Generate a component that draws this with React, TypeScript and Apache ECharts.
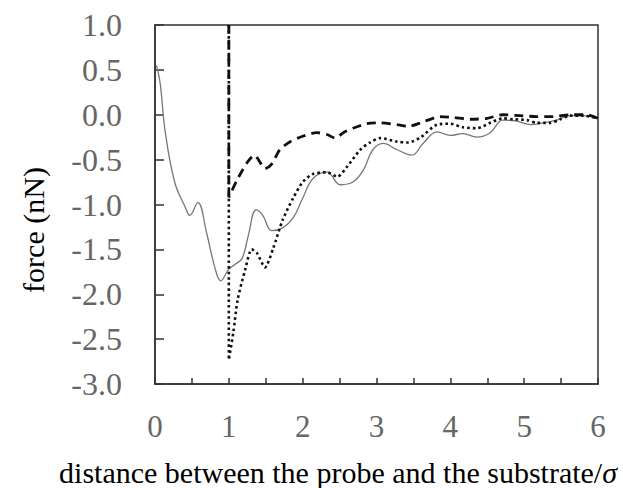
import React, { useEffect, useRef } from "react";
import * as echarts from "echarts";

const xTicks = [0, 1, 2, 3, 4, 5, 6];
const yTicks = [1.0, 0.5, 0.0, -0.5, -1.0, -1.5, -2.0, -2.5, -3.0];

const solidSeries: [number, number][] = [
  [0.02, 0.55], [0.07, 0.35], [0.14, -0.2], [0.27, -0.76], [0.41, -1.03], [0.47, -1.12],
  [0.58, -0.98], [0.7, -1.32], [0.81, -1.7], [0.89, -1.85], [1.0, -1.72], [1.08, -1.67],
  [1.18, -1.6], [1.26, -1.36], [1.37, -1.06], [1.46, -1.12], [1.58, -1.29], [1.73, -1.26],
  [1.87, -1.15], [2.0, -0.93], [2.14, -0.71], [2.33, -0.64], [2.51, -0.78], [2.68, -0.75],
  [2.82, -0.62], [2.95, -0.39], [3.09, -0.32], [3.28, -0.39], [3.48, -0.45], [3.63, -0.32],
  [3.82, -0.19], [4.0, -0.23], [4.17, -0.21], [4.36, -0.25], [4.54, -0.2], [4.71, -0.06],
  [4.9, -0.07], [5.08, -0.11], [5.26, -0.09], [5.44, -0.06], [5.62, -0.01], [5.8, -0.01],
  [6.0, -0.04],
];

const dashedSeries: [number, number][] = [
  [1.0, 1.0], [1.0, -0.92], [1.11, -0.73], [1.25, -0.53], [1.35, -0.45], [1.4, -0.5],
  [1.49, -0.6], [1.58, -0.55], [1.69, -0.39], [1.83, -0.3], [2.0, -0.24], [2.19, -0.2],
  [2.33, -0.22], [2.44, -0.26], [2.55, -0.2], [2.68, -0.15], [2.87, -0.1], [3.05, -0.09],
  [3.28, -0.11], [3.43, -0.13], [3.63, -0.08], [3.86, -0.02], [4.04, -0.03], [4.27, -0.05],
  [4.5, -0.04], [4.71, 0.0], [4.94, -0.01], [5.17, -0.02], [5.39, -0.02], [5.62, 0.0],
  [5.85, 0.0], [6.0, -0.04],
];

const dottedSeries: [number, number][] = [
  [1.0, 1.0], [1.0, -2.73], [1.06, -2.43], [1.12, -2.06], [1.22, -1.73], [1.31, -1.5],
  [1.38, -1.54], [1.49, -1.7], [1.6, -1.49], [1.73, -1.17], [1.87, -0.93], [2.0, -0.75],
  [2.14, -0.66], [2.33, -0.64], [2.47, -0.69], [2.6, -0.58], [2.78, -0.39], [2.91, -0.31],
  [3.05, -0.26], [3.28, -0.3], [3.43, -0.31], [3.6, -0.25], [3.82, -0.11], [4.0, -0.1],
  [4.17, -0.14], [4.36, -0.15], [4.54, -0.09], [4.71, -0.04], [4.85, -0.05], [5.04, -0.06],
  [5.17, -0.09], [5.35, -0.09], [5.49, -0.05], [5.62, -0.01], [5.8, -0.01], [6.0, -0.04],
];

const FONT = "'Liberation Serif', 'DejaVu Serif', serif";

export default function App() {
  const ref = useRef<HTMLDivElement>(null);
  useEffect(() => {
    if (!ref.current) return;
    const chart = echarts.init(ref.current, undefined, { renderer: "svg" });
    chart.setOption({
      animation: false,
      backgroundColor: "#ffffff",
      grid: {
        left: 155, right: 25, top: 25, bottom: 104,
        show: true, borderColor: "#333", borderWidth: 1.5, backgroundColor: "transparent",
      },
      xAxis: {
        type: "value", min: 0, max: 6, interval: 0.5,
        axisLine: { show: true, onZero: false, lineStyle: { color: "#333", width: 1.5 } },
        axisTick: { show: true, inside: true, length: 6, lineStyle: { color: "#333", width: 1.5 } },
        splitLine: { show: false },
        axisLabel: {
          margin: 27, color: "#666", fontFamily: FONT, fontSize: 31,
          formatter: (v: number) => (xTicks.indexOf(v) >= 0 ? String(v) : ""),
        },
      },
      yAxis: {
        type: "value", min: -3, max: 1, interval: 0.5,
        axisLine: { show: true, onZero: false, lineStyle: { color: "#333", width: 1.5 } },
        axisTick: { show: true, inside: true, length: 9, lineStyle: { color: "#333", width: 1.5 } },
        splitLine: { show: false },
        axisLabel: {
          margin: 33, color: "#666", fontFamily: FONT, fontSize: 32,
          formatter: (v: number) => {
            const t = yTicks.find((y) => Math.abs(y - v) < 1e-9);
            return t === undefined ? "" : t.toFixed(1);
          },
        },
      },
      series: [
        {
          type: "line", data: solidSeries, showSymbol: false, smooth: 0.4,
          lineStyle: { color: "#777", width: 1.3 },
        },
        {
          type: "line", data: dashedSeries, showSymbol: false, smooth: 0.25,
          lineStyle: { color: "#111", width: 2.8, type: [9, 6] },
        },
        {
          type: "line", data: dottedSeries, showSymbol: false, smooth: 0.25,
          lineStyle: { color: "#111", width: 2.6, type: [2.6, 3] },
        },
      ],
      graphic: [
        {
          type: "text", x: 33, y: 230, rotation: Math.PI / 2,
          style: {
            text: "force (nN)", fill: "#000", font: `30px ${FONT}`,
            textAlign: "center", textVerticalAlign: "middle",
          },
        },
        {
          type: "text", x: 338, y: 472,
          style: {
            text: "{a|distance between the probe and the substrate/}{b|σ}",
            textAlign: "center", textVerticalAlign: "middle",
            rich: {
              a: { fontFamily: FONT, fontSize: 30, fill: "#000" },
              b: { fontFamily: FONT, fontSize: 30, fontStyle: "italic", fill: "#000" },
            },
          },
        },
      ],
    });
    return () => chart.dispose();
  }, []);
  return (
    <div
      ref={ref}
      style={{ position: "fixed", left: 0, top: 0, width: 623, height: 488 }}
    />
  );
}
